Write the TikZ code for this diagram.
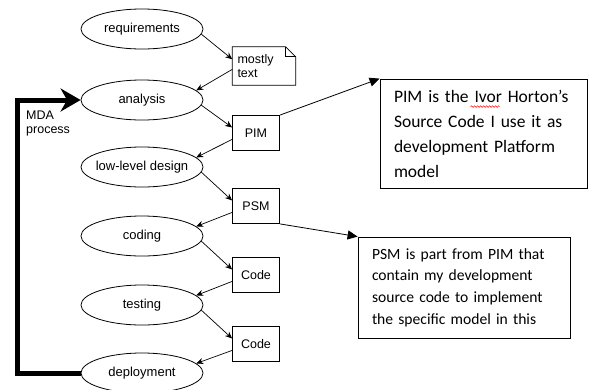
\documentclass[tikz,border=0pt]{standalone}
\usepackage{fontspec}
\usepackage{tikz}
\usetikzlibrary{arrows.meta, shapes.geometric, positioning, calc, decorations.pathmorphing}
\newfontfamily\diagfont{Liberation Sans}
\newfontfamily\notefont{Carlito}

\begin{document}
\begin{tikzpicture}[x=1pt, y=-1pt,
    phase/.style={ellipse, draw, line width=0.8pt, minimum width=122pt, minimum height=40pt, inner sep=0pt, font=\diagfont\fontsize{13}{15}\selectfont},
    artefact/.style={rectangle, draw, line width=0.8pt, minimum width=47pt, minimum height=35pt, inner sep=0pt, font=\diagfont\fontsize{12.5}{14}\selectfont},
    flow/.style={-{Stealth[length=7pt, width=6pt]}, line width=0.7pt},
    mda/.style={-{Stealth[length=20pt, width=23pt]}, line width=5pt, line join=miter},
    callout/.style={-{Triangle[length=10pt, width=9pt]}, line width=0.8pt},
    notebox/.style={rectangle, draw, line width=0.8pt, align=left, inner xsep=14pt, inner ysep=0pt},
    spellmark/.style={red, line width=0.5pt, decorate, decoration={snake, amplitude=0.8pt, segment length=3pt}}]
    \useasboundingbox (0,0) rectangle (589,389);

    % lifecycle phases
    \foreach \nm/\y/\txt in {req/29/requirements, ana/100/analysis, lld/167/low-level design,
                             cod/236/coding, tst/305/testing, dep/373/deployment}{
      \node[phase] (\nm) at (142,\y) {\makebox[0pt]{\txt}};
    }
    % artefacts
    \foreach \nm/\y/\txt in {pim/133/PIM, psm/206/PSM, code1/275/Code, code2/344/Code}{
      \node[artefact] (\nm) at (256,\y) {\txt};
    }
    \node[minimum width=63pt, minimum height=38pt, text width=53pt, inner xsep=5pt, inner ysep=0pt,
          align=left, font=\diagfont\fontsize{12.5}{14}\selectfont] (note) at (264,66) {mostly\\text};
    \draw[line width=0.8pt] (note.north west) -- ([xshift=-10pt]note.north east)
        -- ([yshift=-10pt]note.north east) -- (note.south east) -- (note.south west) -- cycle;
    \draw[line width=0.8pt] ([xshift=-10pt]note.north east) |- ([yshift=-10pt]note.north east);

    \draw[flow] (req.-5) -- (note.168);
    \draw[flow] (note.186) -- (ana.10);
    \foreach \a/\b/\c in {ana/pim/lld, lld/psm/cod, cod/code1/tst, tst/code2/dep}{
      \draw[flow] (\a.-5) -- (\b.167);
      \draw[flow] (\b.195) -- (\c.10);
    }

    % MDA loop
    \coordinate (loopx) at (17,0);
    \draw[mda] (dep.west) -| (loopx |- ana.west) -- (ana.west);
    \node[anchor=north west, align=left, inner sep=0pt, font=\diagfont\fontsize{12.5}{14}\selectfont]
        (mdalabel) at (26,111) {MDA\\process};

    % explanations
    \node[notebox, text width=179pt, minimum height=109pt, font=\notefont\fontsize{17.5}{25}\selectfont]
        (pimnote) at (483.5,133.5) {PIM is the Ivor Horton’s\\Source Code I use it as\\development Platform\\model};
    \node[notebox, text width=184pt, minimum height=101pt, font=\notefont\fontsize{15.6}{21.7}\selectfont]
        (psmnote) at (464,287.5) {PSM is part from PIM that\\contain my development\\source code to implement\\the specific model in this};
    \draw[spellmark] ($(pimnote.north west)+(91,28)$) -- ++(29,0);
    \draw[callout] (pim.north east) -- (pimnote.north west);
    \draw[callout] (psm.south east) -- (psmnote.north west);
\end{tikzpicture}
\end{document}
